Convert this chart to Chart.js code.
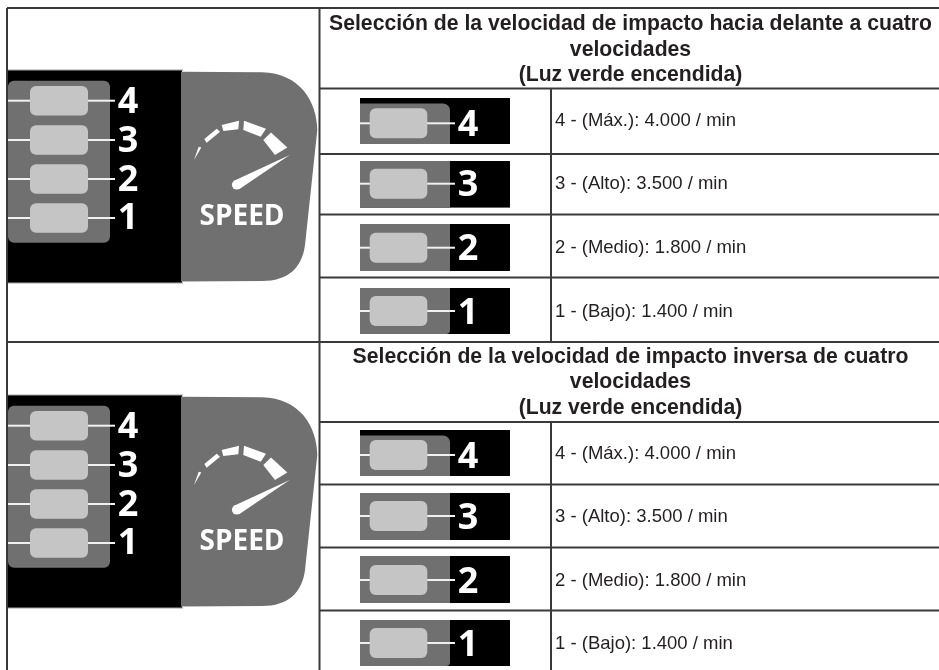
<!DOCTYPE html>
<html><head><meta charset="utf-8">
<style>html,body{margin:0;padding:0;background:#fff}canvas{display:block}</style>
<script src="https://cdn.jsdelivr.net/npm/chart.js@4"></script>
</head><body><canvas id="c" width="939" height="670"></canvas>
<script>
const forwardHeader = ["Selección de la velocidad de impacto hacia delante a cuatro","velocidades","(Luz verde encendida)"];
const reverseHeader = ["Selección de la velocidad de impacto inversa de cuatro","velocidades","(Luz verde encendida)"];
const speedLevels = [4,3,2,1];
const speedNames = ["Máx.","Alto","Medio","Bajo"];
const speedRates = [4000,3500,1800,1400];
const gaugeWord = "SPEED";

const INK="#231f20", RULE="#3a3a3a", GRAY="#707070", PAD="#c5c5c5", LINE="#f0f0f0";
const fmt = n => String(n).replace(/\B(?=(\d{3})+$)/g,".");
const ruleSeg = (a,b,c,d)=>({type:"line",data:[{x:a,y:b},{x:c,y:d}],showLine:true,pointRadius:0,borderColor:RULE,borderWidth:2,clip:false});
const W=939;
const rules=[
  ruleSeg(7,8,W,8),ruleSeg(7,342,W,342),
  ruleSeg(7,8,7,670),ruleSeg(319.5,8,319.5,670),
  ruleSeg(319,88.5,W,88.5),ruleSeg(319,154,W,154),ruleSeg(319,214.5,W,214.5),ruleSeg(319,277.5,W,277.5),
  ruleSeg(319,422,W,422),ruleSeg(319,484.5,W,484.5),ruleSeg(319,547.5,W,547.5),ruleSeg(319,610.5,W,610.5),
  ruleSeg(551,88.5,551,342),ruleSeg(551,422,551,670)
];

function rr(ctx,x,y,w,h,r){ctx.beginPath();ctx.roundRect(x,y,w,h,r);ctx.fill();}
function poly(ctx,pts){ctx.beginPath();pts.forEach((p,i)=>i?ctx.lineTo(p[0],p[1]):ctx.moveTo(p[0],p[1]));ctx.closePath();ctx.fill();}

const artwork={id:"artwork",afterDatasetsDraw(chart){
  const ctx=chart.ctx,X=v=>chart.scales.x.getPixelForValue(v),Y=v=>chart.scales.y.getPixelForValue(v);
  ctx.save();
  const bigPanel=(o)=>{
    ctx.fillStyle="#000";ctx.fillRect(X(8),Y(70+o),X(182)-X(8),Y(283)-Y(70));
    ctx.fillStyle="#8a8a8a";ctx.fillRect(X(8),Y(69.6+o),175,1);ctx.fillRect(X(8),Y(282.4+o),175,1);
    ctx.fillStyle=GRAY;
    ctx.beginPath();ctx.moveTo(X(181),Y(71.7+o));ctx.lineTo(X(262),Y(72.3+o));
    ctx.bezierCurveTo(X(300),Y(73+o),X(317),Y(102+o),X(317.3),Y(130+o));
    ctx.lineTo(X(305),Y(245+o));
    ctx.bezierCurveTo(X(302),Y(268+o),X(288),Y(281+o),X(262),Y(281+o));
    ctx.lineTo(X(181),Y(281.5+o));ctx.closePath();ctx.fill();
    rr(ctx,X(8),Y(80.7+o),102,162,6);
    const pady=[100.7,140,179,218],digy=[113.3,151.7,190.7,228.5];
    speedLevels.forEach((d,i)=>{
      ctx.fillStyle=LINE;ctx.fillRect(X(8),Y(pady[i]-1+o),107,2);
      ctx.fillStyle=PAD;rr(ctx,X(30),Y(pady[i]-14.7+o),58,29.4,6);
      ctx.fillStyle="#fff";ctx.font="700 36px 'Open Sans'";ctx.textAlign="center";ctx.textBaseline="alphabetic";
      ctx.fillText(String(d),X(128),Y(digy[i]+o));
    });
    ctx.fillStyle="#fff";
    poly(ctx,[[263.3,140],[271,132.5],[287.3,147.5],[275,155]].map(p=>[X(p[0]),Y(p[1]+o)]));
    poly(ctx,[[244,120.7],[266,128.7],[260.7,136.7],[243.3,130]].map(p=>[X(p[0]),Y(p[1]+o)]));
    poly(ctx,[[221.7,125],[239,120.7],[238.3,129.3],[223.3,131]].map(p=>[X(p[0]),Y(p[1]+o)]));
    poly(ctx,[[204.3,139],[216.7,128.7],[220,131.7],[206.7,142.7]].map(p=>[X(p[0]),Y(p[1]+o)]));
    poly(ctx,[[194,160],[198.7,146.7],[201.3,147.5]].map(p=>[X(p[0]),Y(p[1]+o)]));
    poly(ctx,[[289.7,155],[239.5,189],[233.5,181]].map(p=>[X(p[0]),Y(p[1]+o)]));
    ctx.beginPath();ctx.arc(X(236.7),Y(184.8+o),4.8,0,7);ctx.fill();
    ctx.font="700 28px 'Open Sans'";ctx.textAlign="center";ctx.textBaseline="alphabetic";
    ctx.fillText(gaugeWord,X(242),Y(224.5+o));
  };
  bigPanel(0);bigPanel(325);

  const tile=(i,top,bot,cy)=>{
    ctx.fillStyle="#000";ctx.fillRect(X(360),Y(top),150,bot-top);
    ctx.fillStyle=GRAY;
    if(i===0){ctx.beginPath();ctx.roundRect(X(360),Y(top+5.5),90,bot-top-5.5,[0,7,0,0]);ctx.fill();}
    else if(i===3){ctx.beginPath();ctx.roundRect(X(360),Y(top),90,bot-top,[0,0,4,0]);ctx.fill();}
    else ctx.fillRect(X(360),Y(top),90,bot-top);
    ctx.fillStyle=LINE;ctx.fillRect(X(360),Y(cy-1),95,2);
    ctx.fillStyle=PAD;rr(ctx,X(369.7),Y(cy-15),57.6,30,6);
    ctx.fillStyle="#fff";ctx.font="700 36px 'Open Sans'";ctx.textAlign="center";ctx.textBaseline="alphabetic";
    ctx.fillText(String(speedLevels[i]),X(468),Y(cy+12.6));
  };
  [[98,144,123.3],[161,207.6,183.7],[224,271,247.7],[288,334,311]].forEach((r,i)=>tile(i,r[0],r[1],r[2]));
  [[430,476,455],[493,540,516],[556,603,580],[620,666,643]].forEach((r,i)=>tile(i,r[0],r[1],r[2]));

  ctx.fillStyle=INK;ctx.textBaseline="middle";
  ctx.font="700 21.2px 'Liberation Sans'";ctx.textAlign="center";
  forwardHeader.forEach((t,i)=>ctx.fillText(t,X(630.5),Y([24.5,50,75.5][i])));
  reverseHeader.forEach((t,i)=>ctx.fillText(t,X(630.5),Y([357,382.5,408.5][i])));
  ctx.font="400 18.5px 'Liberation Sans'";ctx.textAlign="left";
  const rowText=i=>`${speedLevels[i]} - (${speedNames[i]}): ${fmt(speedRates[i])} / min`;
  [121,184,248,311.5].forEach((y,i)=>ctx.fillText(rowText(i),X(555),Y(y)));
  [454,517,580.5,644].forEach((y,i)=>ctx.fillText(rowText(i),X(555),Y(y)));
  ctx.restore();
}};

new Chart(document.getElementById("c"),{
  type:"scatter",
  data:{datasets:rules},
  plugins:[artwork],
  options:{responsive:false,animation:false,layout:{padding:0},
    plugins:{legend:{display:false},tooltip:{enabled:false},title:{display:false}},
    scales:{x:{type:"linear",min:0,max:939,display:false},y:{type:"linear",min:0,max:670,reverse:true,display:false}}}
});
</script></body></html>
